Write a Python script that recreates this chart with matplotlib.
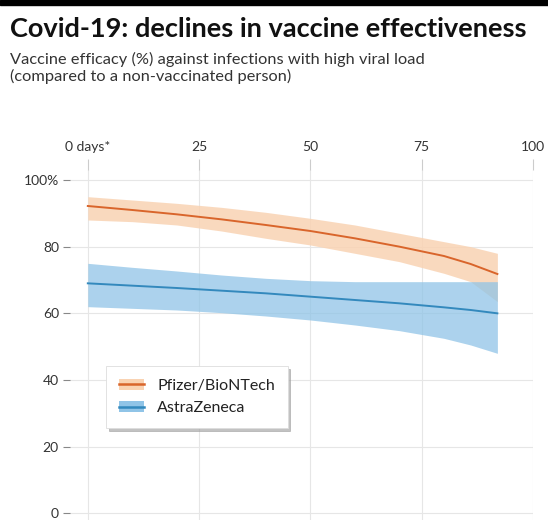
import matplotlib
matplotlib.use("Agg")
import matplotlib.pyplot as plt
from matplotlib.lines import Line2D
from matplotlib.patches import Patch, Rectangle

# ---- data ----
days = [0, 10, 20, 30, 40, 50, 60, 70, 80, 86, 92]
pfizer_mean = [92.2, 91.0, 89.7, 88.2, 86.5, 84.7, 82.5, 80.0, 77.2, 74.8, 71.8]
pfizer_upper = [95.0, 94.0, 93.0, 91.8, 90.3, 88.5, 86.5, 84.0, 81.5, 80.0, 78.0]
pfizer_lower = [88.0, 87.5, 86.5, 84.7, 82.5, 80.5, 78.0, 75.5, 72.0, 69.5, 63.5]
az_mean = [69.0, 68.3, 67.6, 66.8, 66.0, 65.0, 64.0, 63.0, 61.8, 61.0, 60.0]
az_upper = [75.0, 73.8, 72.7, 71.5, 70.5, 69.8, 69.5, 69.5, 69.5, 69.5, 69.5]
az_lower = [62.0, 61.5, 61.0, 60.2, 59.2, 58.0, 56.5, 54.8, 52.5, 50.5, 48.0]
x_ticks = [0, 25, 50, 75, 100]
x_labels = ["0 days*", "25", "50", "75", "100"]
y_ticks = [0, 20, 40, 60, 80, 100]
y_labels = ["0", "20", "40", "60", "80", "100%"]
series_names = ["Pfizer/BioNTech", "AstraZeneca"]

title = "Covid-19: declines in vaccine effectiveness"
subtitle = "Vaccine efficacy (%) against infections with high viral load\n(compared to a non-vaccinated person)"

plt.rcParams['font.family'] = ['Lato', 'DejaVu Sans']

W, H = 548, 526
fig = plt.figure(figsize=(W / 100, H / 100), dpi=100)
fig.patch.set_facecolor("white")

# top black bar
fig.add_artist(Rectangle((0, 1 - 5 / H), 1, 5 / H, transform=fig.transFigure,
                         color="black", zorder=10))

fig.text(10 / W, 1 - 29 / H, title, fontsize=19.5, fontweight="bold",
         color="#111111", va="center", ha="left")
fig.text(10 / W, 1 - 68 / H, subtitle, fontsize=11.8, color="#333333",
         va="center", ha="left", linespacing=1.15)

left_px, right_px = 70, 533
top_px, bot_px = 170, 520
ax = fig.add_axes([left_px / W, 1 - bot_px / H, (right_px - left_px) / W,
                   (bot_px - top_px) / H])
ax.set_xlim(-4, 100)
ax.set_ylim(-2, 103)

orange_line = "#d9652b"
orange_band = "#f9d3b3"
blue_line = "#3389bd"
blue_band = "#90c4e7"

ax.fill_between(days, pfizer_lower, pfizer_upper, color=orange_band, alpha=0.85,
                lw=0, zorder=2)
ax.fill_between(days, az_lower, az_upper, color=blue_band, alpha=0.75, lw=0,
                zorder=3)
ax.plot(days, pfizer_mean, color=orange_line, lw=1.4, zorder=4)
ax.plot(days, az_mean, color=blue_line, lw=1.4, zorder=4)

ax.set_xticks(x_ticks)
ax.set_xticklabels(x_labels)
ax.set_yticks(y_ticks)
ax.set_yticklabels(y_labels)
ax.xaxis.tick_top()
ax.tick_params(axis="x", length=8, color="#cccccc", width=0.8, pad=4,
               labelsize=10, labelcolor="#333333")
ax.tick_params(axis="y", length=5, color="#888888", width=0.8, pad=3,
               labelsize=10, labelcolor="#333333")
ax.grid(True, color="#e6e6e6", lw=0.8, zorder=0)
for s in ax.spines.values():
    s.set_visible(False)
ax.set_axisbelow(True)

handles = [
    (Patch(facecolor=orange_band, edgecolor="none"),
     Line2D([], [], color=orange_line, lw=1.8)),
    (Patch(facecolor=blue_band, edgecolor="none"),
     Line2D([], [], color=blue_line, lw=1.8)),
]
leg = ax.legend(handles, series_names, loc="upper left",
                bbox_to_anchor=((106 - left_px) / (right_px - left_px),
                                1 - (366 - top_px) / (bot_px - top_px)),
                frameon=True, fancybox=False,
                shadow={'color': '#9a9a9a', 'alpha': 0.6},
                fontsize=11.5,
                handlelength=1.6, handleheight=0.7, borderpad=0.8,
                labelspacing=0.5, handletextpad=0.8, borderaxespad=0)
leg.get_frame().set_edgecolor("#dddddd")
leg.get_frame().set_linewidth(0.6)
for t in leg.get_texts():
    t.set_color("#222222")

fig.savefig("out.png", dpi=100, facecolor="white")
